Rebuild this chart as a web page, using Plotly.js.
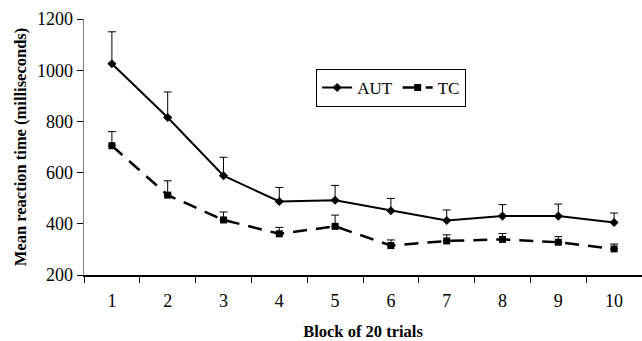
<!DOCTYPE html>
<html>
<head>
<meta charset="utf-8">
<script src="https://cdn.plot.ly/plotly-3.0.1.min.js"></script>
<style>html,body{margin:0;padding:0;background:#fff;}#chart{width:642px;height:341px;}</style>
</head>
<body>
<div id="chart"></div>
<script>
const blocks = ["1","2","3","4","5","6","7","8","9","10"];
const autMean = [1025, 815, 588, 487, 492, 451, 413, 430, 430, 405];
const autErr  = [125, 100, 72, 55, 58, 48, 41, 45, 47, 37];
const tcMean  = [705, 512, 415, 361, 390, 315, 333, 339, 328, 302];
const tcErr   = [55, 56, 31, 25, 44, 22, 24, 23, 22, 19];

const font = "Liberation Serif, Times New Roman, serif";

const traces = [
  {
    x: blocks, y: autMean, name: "AUT", type: "scatter", mode: "lines+markers",
    line: {color: "#000", width: 2},
    marker: {symbol: "diamond", size: 7, color: "#000"},
    error_y: {type: "data", array: autErr, arrayminus: autErr.map(() => 0), symmetric: false,
              color: "#000", thickness: 1, width: 4}
  },
  {
    x: blocks, y: tcMean, name: "TC", type: "scatter", mode: "lines+markers",
    line: {color: "#000", width: 2.5, dash: "14px,9px"},
    marker: {symbol: "square", size: 7, color: "#000"},
    error_y: {type: "data", array: tcErr, arrayminus: tcErr.map(() => 0), symmetric: false,
              color: "#000", thickness: 1, width: 4}
  }
];

const layout = {
  width: 642, height: 341,
  margin: {l: 84, r: 0, t: 19, b: 66},
  paper_bgcolor: "#fff", plot_bgcolor: "#fff",
  font: {family: font, size: 17, color: "#000"},
  showlegend: true,
  legend: {
    orientation: "h", x: 0.416, y: 0.805, xanchor: "left", yanchor: "top",
    bordercolor: "#000", borderwidth: 1, bgcolor: "#fff",
    font: {family: font, size: 17, color: "#000"},
    tracegroupgap: 0
  },
  xaxis: {
    type: "category", range: [-0.5, 9.5], tickson: "boundaries",
    showline: true, linecolor: "#000", linewidth: 1.5,
    ticks: "outside", ticklen: 6, tickcolor: "#000",
    showgrid: false, zeroline: false, ticklabelstandoff: 9,
    tickfont: {family: font, size: 18, color: "#000"},
    title: {text: "<b>Block of 20 trials</b>", font: {family: font, size: 16.5, color: "#000"}, standoff: 18}
  },
  yaxis: {
    range: [200, 1200], tickvals: [200, 400, 600, 800, 1000, 1200],
    showline: true, linecolor: "#808080", linewidth: 1.5,
    ticks: "outside", ticklen: 6, tickcolor: "#000",
    showgrid: false, zeroline: false,
    tickfont: {family: font, size: 18, color: "#000"},
    title: {text: "<b>Mean reaction time (milliseconds)</b>", font: {family: font, size: 16.5, color: "#000"}, standoff: 6}
  }
};

Plotly.newPlot("chart", traces, layout, {displayModeBar: false, staticPlot: true});
</script>
</body>
</html>
